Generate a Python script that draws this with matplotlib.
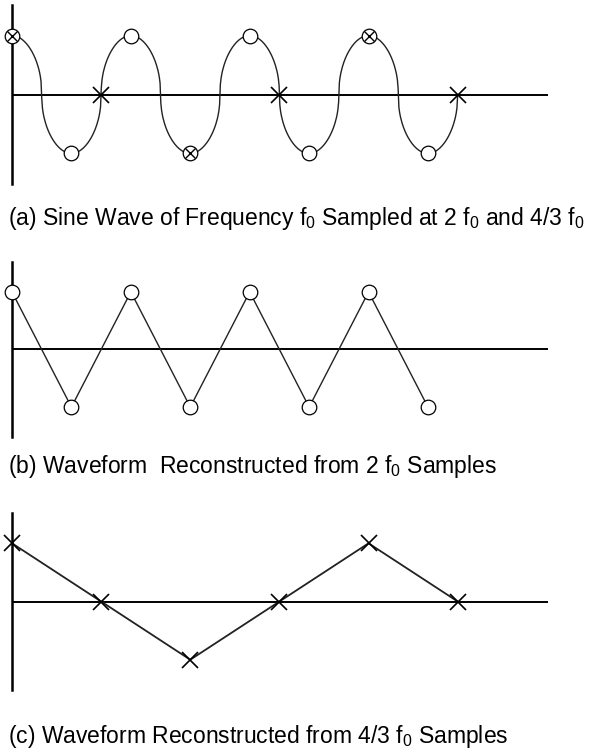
import numpy as np
import matplotlib
matplotlib.use("Agg")
import matplotlib.pyplot as plt

plt.rcParams["font.family"] = ["Liberation Sans", "DejaVu Sans"]
plt.rcParams["mathtext.fontset"] = "custom"
plt.rcParams["mathtext.rm"] = "Liberation Sans"
plt.rcParams["mathtext.it"] = "Liberation Sans"

# Sample times in units of the signal period T0
t_2f0 = [0.0, 0.5, 1.0, 1.5, 2.0, 2.5, 3.0, 3.5]
v_2f0 = [1, -1, 1, -1, 1, -1, 1, -1]
t_43f0 = [0.0, 0.75, 1.5, 2.25, 3.0, 3.75]
v_43f0 = [1, 0, -1, 0, 1, 0]
# samples common to both rates (drawn as crossed circles)
t_both = [0.0, 1.5, 3.0]
v_both = [1, -1, 1]

captions = [
    r"(a) Sine Wave of Frequency f$_\mathregular{0}$ Sampled at 2 f$_\mathregular{0}$ and 4/3 f$_\mathregular{0}$",
    r"(b) Waveform  Reconstructed from 2 f$_\mathregular{0}$ Samples",
    r"(c) Waveform Reconstructed from 4/3 f$_\mathregular{0}$ Samples",
]

W, H = 610, 752
fig = plt.figure(figsize=(W / 100, H / 100), dpi=100)

x0, x1 = 12, 548          # horizontal extent of each time axis (px)
t_max = 4.51              # time span covered by that extent


def panel(top, bottom):
    ax = fig.add_axes([x0 / W, 1 - bottom / H, (x1 - x0) / W, (bottom - top) / H])
    ax.set_xlim(0, t_max)
    ax.set_ylim(-1.52, 1.52)
    for s in ("top", "right", "bottom"):
        ax.spines[s].set_visible(False)
    ax.spines["left"].set_linewidth(1.8)
    ax.set_xticks([])
    ax.set_yticks([])
    ax.axhline(0, color="black", lw=1.4, zorder=1)
    ax.patch.set_alpha(0)
    return ax


circ = dict(marker="o", ms=10.5, mfc="white", mec="black", mew=0.9,
            linestyle="none", clip_on=False, zorder=4)
cross = dict(marker="x", ms=11.5, mec="black", mew=1.2,
             linestyle="none", clip_on=False, zorder=5)

# (a) continuous waveform with both sample sets
ax = panel(5, 184)
t = np.linspace(0, 3.75, 600)
c = np.cos(2 * np.pi * t)
ax.plot(t, np.sign(c) * np.abs(c) ** 0.45, color="#222222", lw=1.0, zorder=2,
        clip_on=False)
ax.plot(t_2f0, v_2f0, **circ)
ax.plot([tt for tt, vv in zip(t_43f0, v_43f0) if vv == 0],
        [0] * 3, **cross)
ax.plot(t_both, v_both, marker="x", ms=7.5, mec="black", mew=1.0,
        linestyle="none", clip_on=False, zorder=5)

# (b) reconstruction from 2 f0 samples
ax = panel(262, 437)
ax.plot(t_2f0, v_2f0, color="#222222", lw=1.0, zorder=2, clip_on=False)
ax.plot(t_2f0, v_2f0, **circ)

# (c) reconstruction from 4/3 f0 samples
ax = panel(513, 690)
ax.plot(t_43f0, v_43f0, color="#222222", lw=1.3, zorder=2, clip_on=False)
ax.plot(t_43f0, v_43f0, **cross)

for txt, yc in zip(captions, [218, 466, 737]):
    fig.text(8 / W, 1 - yc / H, txt, fontsize=16.5, va="center", ha="left")

fig.savefig("out.png", dpi=100, facecolor="white")
